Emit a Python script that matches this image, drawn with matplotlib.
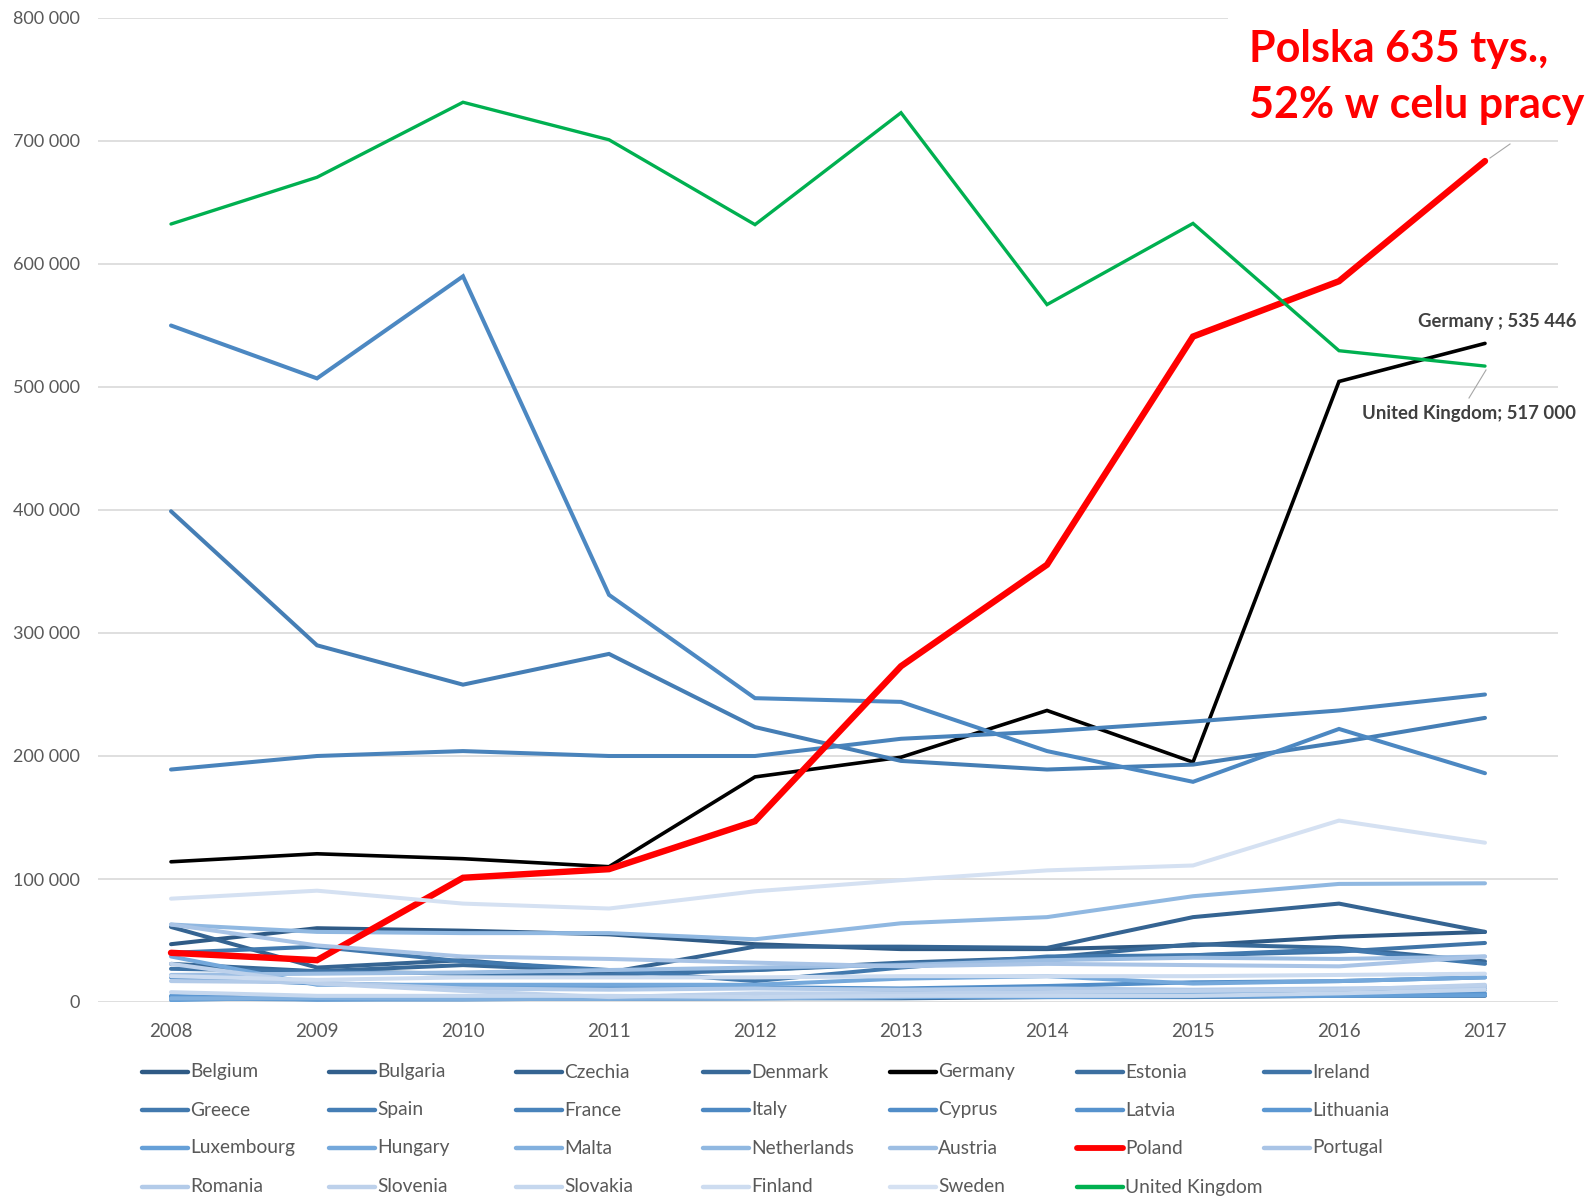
import matplotlib
matplotlib.use("Agg")
import matplotlib.pyplot as plt
from matplotlib.lines import Line2D
from matplotlib.patches import Rectangle
from matplotlib.ticker import FuncFormatter

plt.rcParams['font.family'] = ['Lato', 'DejaVu Sans']

years = [2008, 2009, 2010, 2011, 2012, 2013, 2014, 2015, 2016, 2017]

countries = ["Belgium", "Bulgaria", "Czechia", "Denmark", "Germany", "Estonia", "Ireland",
             "Greece", "Spain", "France", "Italy", "Cyprus", "Latvia", "Lithuania",
             "Luxembourg", "Hungary", "Malta", "Netherlands", "Austria", "Poland", "Portugal",
             "Romania", "Slovenia", "Slovakia", "Finland", "Sweden", "United Kingdom"]

belgium     = [47000, 60000, 58000, 55000, 47000, 43000, 43000, 46000, 53000, 57000]
bulgaria    = [4000, 4000, 4000, 4000, 5000, 7000, 9000, 9000, 9000, 10000]
czechia     = [61000, 28000, 34000, 24000, 45000, 45000, 44000, 69000, 80000, 57000]
denmark     = [31000, 25000, 30000, 25000, 26000, 32000, 36000, 47000, 44000, 33000]
germany     = [114000, 120500, 116500, 110000, 183000, 199000, 237000, 195000, 504500, 535446]
estonia     = [4000, 3000, 2500, 2500, 3000, 3000, 4000, 4000, 5000, 5000]
ireland     = [27000, 25000, 23000, 22000, 26000, 31000, 35000, 38000, 41000, 48000]
greece      = [40000, 45000, 33000, 26000, 17000, 28000, 37000, 38000, 43000, 31000]
spain       = [399000, 290000, 258000, 283000, 223500, 196000, 189000, 193000, 211000, 231000]
france      = [189000, 200000, 204000, 200000, 200000, 214000, 220000, 228000, 237000, 250000]
italy       = [550000, 507000, 590000, 331000, 247000, 244000, 204000, 179000, 222000, 186000]
cyprus      = [20000, 15000, 13000, 13000, 12000, 11000, 13000, 16000, 17000, 20000]
latvia      = [3000, 2000, 3000, 4000, 6000, 7000, 9000, 6000, 6000, 7000]
lithuania   = [5000, 2000, 2000, 3000, 3000, 4000, 5000, 5000, 6000, 11000]
luxembourg  = [1500, 4000, 4000, 4000, 4000, 4000, 4000, 4500, 5000, 5500]
hungary     = [37000, 14000, 14000, 14000, 14000, 19000, 21000, 15000, 17000, 20000]
malta       = [3000, 3000, 2500, 2500, 3000, 4000, 7000, 8000, 10000, 13000]
netherlands = [63000, 57000, 56000, 56000, 51000, 64000, 69000, 86000, 96000, 96500]
austria     = [22000, 23000, 24000, 26000, 28000, 30000, 34000, 36000, 35000, 37000]
poland      = [40000, 34000, 101000, 108000, 147000, 273000, 355500, 541000, 586000, 683700]
portugal    = [63000, 46000, 37000, 35000, 32000, 29000, 31000, 30000, 29000, 37000]
romania     = [17000, 16000, 11000, 10000, 11000, 10000, 11000, 10000, 11000, 12000]
slovenia    = [31000, 15000, 9000, 4000, 7000, 7000, 8000, 9000, 10000, 14000]
slovakia    = [8000, 5000, 5000, 5000, 4000, 5000, 5000, 5000, 7000, 10000]
finland     = [21000, 18000, 20000, 20000, 20000, 21000, 21000, 21000, 22000, 23000]
sweden      = [84000, 90500, 80000, 76000, 90000, 99000, 107000, 111000, 147500, 129500]
uk          = [632500, 670500, 731500, 701000, 632000, 723000, 567000, 633000, 529500, 517000]

series = [belgium, bulgaria, czechia, denmark, germany, estonia, ireland,
          greece, spain, france, italy, cyprus, latvia, lithuania,
          luxembourg, hungary, malta, netherlands, austria, poland, portugal,
          romania, slovenia, slovakia, finland, sweden, uk]

colors = ["#2F5A85", "#325F8C", "#356492", "#386998", "#000000", "#3C6FA0", "#3F74A7",
          "#4279AE", "#457EB5", "#4983BB", "#4C88C2", "#518DC8", "#5692CD", "#5B97D2",
          "#66A0D8", "#74A8DB", "#82B0DE", "#90B8E1", "#9DBEE3", "#FF0000", "#A9C4E6",
          "#B3CBE9", "#BDD1EB", "#C5D7EE", "#CDDCF0", "#D5E1F2", "#00B050"]

widths = {"Germany": 2.6, "Poland": 4.6, "United Kingdom": 2.4}
default_w = 2.9

W, H = 1590, 1198
fig = plt.figure(figsize=(W / 100, H / 100), dpi=100)
ax = fig.add_axes([98 / W, 1 - 1002 / H, (1558 - 98) / W, (1002 - 18) / H])

for name, vals, col in zip(countries, series, colors):
    ax.plot(years, vals, color=col, lw=widths.get(name, default_w),
            solid_capstyle='round', solid_joinstyle='miter', zorder=3)

ax.set_xlim(2007.5, 2017.5)
ax.set_ylim(0, 800000)
ax.set_xticks(years)
ax.set_yticks(range(0, 800001, 100000))
ax.yaxis.set_major_formatter(FuncFormatter(lambda v, p: f"{int(v):,}".replace(",", " ")))
ax.grid(axis='y', color='#D9D9D9', lw=1.2, zorder=0)
ax.set_axisbelow(True)
for s in ax.spines.values():
    s.set_visible(False)
ax.tick_params(axis='both', length=0, labelsize=13, labelcolor='#595959')
ax.tick_params(axis='x', labelsize=13.5)
ax.tick_params(axis='y', pad=13)
ax.tick_params(axis='x', pad=15)

# data labels
uk_end = (years[-1], uk[-1])
de_end = (years[-1], germany[-1])

def px(x, y):
    return (x / W, 1 - y / H)

ax.annotate("Germany ; 535 446", xy=de_end, xycoords='data',
            xytext=px(1576, 322), textcoords='figure fraction',
            ha='right', va='center', fontsize=13.3, fontweight='bold', color='#404040')
ax.annotate("United Kingdom; 517 000", xy=uk_end, xycoords='data',
            xytext=px(1576, 413), textcoords='figure fraction',
            ha='right', va='center', fontsize=13.3, fontweight='bold', color='#404040')
fig.add_artist(Line2D([1486 / W, 1469 / W], [1 - 370 / H, 1 - 398 / H],
                      color='#A6A6A6', lw=0.8))
fig.add_artist(Line2D([1490 / W, 1510 / W], [1 - 158 / H, 1 - 144 / H],
                      color='#A6A6A6', lw=0.8))

# white box with the headline
fig.add_artist(Rectangle((1228 / W, 1 - 140 / H), (W - 1228) / W, 140 / H,
                         transform=fig.transFigure, facecolor='white',
                         edgecolor='none', zorder=5))
fig.text(1249 / W, 1 - 49 / H, "Polska 635 tys.,", ha='left', va='center',
         fontsize=31, fontweight='bold', color='#FF0000', zorder=6)
fig.text(1249 / W, 1 - 105 / H, "52% w celu pracy", ha='left', va='center',
         fontsize=31, fontweight='bold', color='#FF0000', zorder=6)

# legend, laid out row by row like the original
row_y = [1072, 1110, 1148, 1187]
col_x0 = 142
col_step = 187
for i, (name, col) in enumerate(zip(countries, colors)):
    r, c = divmod(i, 7)
    x0 = col_x0 + c * col_step
    y = row_y[r]
    lw = 4.2 if name == "Poland" else 3.2
    fig.add_artist(Line2D([x0 / W, (x0 + 46) / W], [1 - y / H, 1 - y / H],
                          color=col, lw=lw, solid_capstyle='round'))
    fig.text((x0 + 48) / W, 1 - y / H, name, ha='left', va='center',
             fontsize=13.8, color='#595959')

fig.savefig("out.png", dpi=100)
